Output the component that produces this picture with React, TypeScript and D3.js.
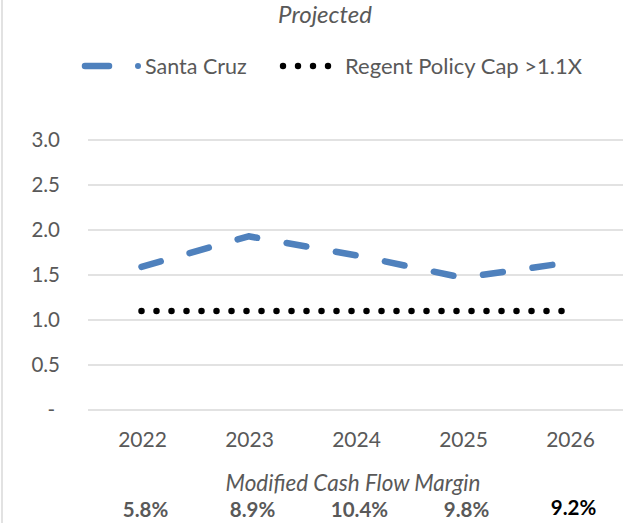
import React from "react";
import * as d3 from "d3";

// Debt service coverage, projected
const years = ["2022", "2023", "2024", "2025", "2026"];
const santaCruz = [1.59, 1.93, 1.72, 1.47, 1.64];
const policyCap = [1.1, 1.1, 1.1, 1.1, 1.1];
const yTicks = [0, 0.5, 1.0, 1.5, 2.0, 2.5, 3.0];
const cashFlowMargin = ["5.8%", "8.9%", "10.4%", "9.8%", "9.2%"];

const W = 632;
const H = 523;
const FONT = "Lato, 'Open Sans', sans-serif";
const GREY = "#595959";
const BLUE = "#4F81BD";

export default function App() {
  const x = d3.scaleBand<string>().domain(years).range([88, 623]);
  const cx = (yr: string) => (x(yr) ?? 0) + x.bandwidth() / 2;
  const y = d3.scaleLinear().domain([0, 3]).range([410, 140]);

  const line = d3
    .line<number>()
    .x((_, i) => cx(years[i]))
    .y((v) => y(v));

  const fmt = (v: number) => (v === 0 ? "-" : d3.format(".1f")(v));
  const last = cashFlowMargin.length - 1;

  return (
    <svg
      width={W}
      height={H}
      style={{ position: "absolute", left: 0, top: 0, background: "#fff" }}
      fontFamily={FONT}
    >
      <rect x={0} y={0} width={W} height={H} fill="#fff" />
      <line x1={2} x2={2} y1={0} y2={H} stroke="#d9d9d9" strokeWidth={1.5} />

      <text x={325} y={22.5} textAnchor="middle" fontSize={24} fontStyle="italic" fill={GREY}>
        Projected
      </text>

      {/* legend */}
      <g>
        <line x1={85} x2={109} y1={66} y2={66} stroke={BLUE} strokeWidth={6.5} strokeLinecap="round" />
        <circle cx={138} cy={66} r={3} fill={BLUE} />
        <text x={145} y={73.5} fontSize={21.5} fill={GREY}>
          Santa Cruz
        </text>
        {[0, 1, 2, 3].map((k) => (
          <circle key={k} cx={283 + k * 15} cy={66} r={3.2} fill="#000" />
        ))}
        <text x={345} y={73.5} fontSize={22} fill={GREY}>
          Regent Policy Cap &gt;1.1X
        </text>
      </g>

      {/* gridlines + y labels */}
      {yTicks.map((t) => (
        <g key={t}>
          <line x1={88} x2={623} y1={y(t)} y2={y(t)} stroke="#d9d9d9" strokeWidth={1.5} />
          <text
            x={t === 0 ? 55 : 60}
            y={y(t)}
            dy="0.35em"
            textAnchor="end"
            fontSize={20.5}
            fill={GREY}
          >
            {fmt(t)}
          </text>
        </g>
      ))}

      {/* x labels */}
      {years.map((yr) => (
        <text key={yr} x={cx(yr) + 1} y={447} textAnchor="middle" fontSize={21} fill={GREY}>
          {yr}
        </text>
      ))}

      {/* policy cap */}
      <path
        d={line(policyCap) ?? ""}
        fill="none"
        stroke="#000"
        strokeWidth={6.5}
        strokeLinecap="round"
        strokeDasharray="0 15"
      />

      {/* Santa Cruz */}
      <path
        d={line(santaCruz) ?? ""}
        fill="none"
        stroke={BLUE}
        strokeWidth={6.5}
        strokeLinecap="round"
        strokeLinejoin="round"
        strokeDasharray="20 30"
      />

      <text x={353} y={491} textAnchor="middle" fontSize={22.5} fontStyle="italic" fill={GREY}>
        Modified Cash Flow Margin
      </text>
      {cashFlowMargin.map((m, i) => (
        <text
          key={years[i]}
          x={cx(years[i]) + 4}
          y={i === last ? 515 : 517}
          textAnchor="middle"
          fontSize={20.5}
          fontWeight="bold"
          fill={i === last ? "#000" : GREY}
        >
          {m}
        </text>
      ))}
    </svg>
  );
}
